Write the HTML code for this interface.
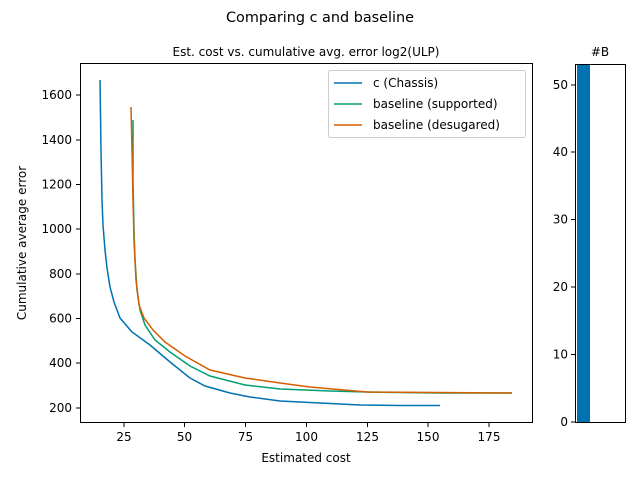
<!DOCTYPE html>
<html><head><style>body{margin:0;background:#fff}svg{display:block}text{font-family:"DejaVu Sans","Liberation Sans",sans-serif;fill:#000}</style></head><body>
<svg width="640" height="480" viewBox="0 0 640 480">
<text x="320" y="22" font-size="14.4" text-anchor="middle">Comparing c and baseline</text>
<text x="306" y="56" font-size="12" text-anchor="middle">Est. cost vs. cumulative avg. error log2(ULP)</text>
<text x="600" y="56" font-size="12" text-anchor="middle">#B</text>
<g fill="none" stroke-width="1.5">
<polyline stroke="#0072b2" points="100,80 101,150 102,200 103,225 105,250 107,268 110,287 114,302 120,318 132,332 150,345 170,362 190,378 205,386 230,393 250,397 280,401 320,403 360,405 400,405.5 440,405.5"/>
<polyline stroke="#009e73" points="133,120 133,180 134,230 135,260 137,290 140,310 145,325 155,340 170,352 190,366 210,376 245,385 280,389 330,391 367,392 440,393 512,393"/>
<polyline stroke="#d55e00" points="131,107 132,150 133,200 134,240 136,280 139,305 144,318 153,330 165,342 185,356 210,370 245,378 280,383 310,387 367,392 512,393"/>
</g>
<rect x="80.5" y="63.5" width="452" height="359" fill="none" stroke="#000" stroke-width="1"/>
<g stroke="#000" stroke-width="1">
<line x1="124" y1="423" x2="124" y2="427"/><line x1="184.5" y1="423" x2="184.5" y2="427"/><line x1="245.5" y1="423" x2="245.5" y2="427"/><line x1="306.5" y1="423" x2="306.5" y2="427"/><line x1="367.5" y1="423" x2="367.5" y2="427"/><line x1="428" y1="423" x2="428" y2="427"/><line x1="489" y1="423" x2="489" y2="427"/>
<line x1="76" y1="408" x2="80" y2="408"/><line x1="76" y1="363" x2="80" y2="363"/><line x1="76" y1="318.5" x2="80" y2="318.5"/><line x1="76" y1="274" x2="80" y2="274"/><line x1="76" y1="229" x2="80" y2="229"/><line x1="76" y1="184.5" x2="80" y2="184.5"/><line x1="76" y1="140" x2="80" y2="140"/><line x1="76" y1="95" x2="80" y2="95"/>
</g>
<g font-size="12" text-anchor="middle">
<text x="124" y="441">25</text><text x="184.5" y="441">50</text><text x="245.5" y="441">75</text><text x="306.5" y="441">100</text><text x="367.5" y="441">125</text><text x="428" y="441">150</text><text x="489" y="441">175</text>
<text x="306" y="462">Estimated cost</text>
</g>
<g font-size="12" text-anchor="end">
<text x="72" y="412">200</text><text x="72" y="367">400</text><text x="72" y="322.5">600</text><text x="72" y="278">800</text><text x="72" y="233">1000</text><text x="72" y="188.5">1200</text><text x="72" y="144">1400</text><text x="72" y="99">1600</text>
</g>
<text font-size="12" text-anchor="middle" transform="translate(26,243) rotate(-90)">Cumulative average error</text>
<rect x="328.5" y="70.5" width="197" height="67" rx="2" fill="#fff" stroke="#ccc"/>
<g stroke-width="1.5"><line x1="334" y1="83" x2="362" y2="83" stroke="#0072b2"/><line x1="334" y1="104" x2="362" y2="104" stroke="#009e73"/><line x1="334" y1="125" x2="362" y2="125" stroke="#d55e00"/></g>
<g font-size="12"><text x="373" y="87">c (Chassis)</text><text x="373" y="108">baseline (supported)</text><text x="373" y="129">baseline (desugared)</text></g>
<rect x="577" y="64" width="13" height="358" fill="#0072b2"/>
<rect x="575.5" y="64.5" width="50" height="358" fill="none" stroke="#000"/>
<g stroke="#000"><line x1="571" y1="422" x2="575" y2="422"/><line x1="571" y1="354.5" x2="575" y2="354.5"/><line x1="571" y1="287" x2="575" y2="287"/><line x1="571" y1="219.5" x2="575" y2="219.5"/><line x1="571" y1="152" x2="575" y2="152"/><line x1="571" y1="85" x2="575" y2="85"/></g>
<g font-size="12" text-anchor="end"><text x="568" y="426">0</text><text x="568" y="358.5">10</text><text x="568" y="291">20</text><text x="568" y="223.5">30</text><text x="568" y="156">40</text><text x="568" y="89">50</text></g>
</svg>
</body></html>
